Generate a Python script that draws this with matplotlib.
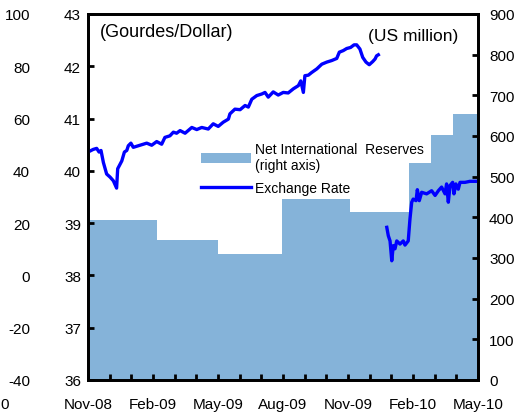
import matplotlib.pyplot as plt
import numpy as np

plt.rcParams['font.family'] = ['Liberation Sans', 'DejaVu Sans']
plt.rcParams['axes.unicode_minus'] = False

# months since Nov-2008
month_labels = ['Nov-08', 'Feb-09', 'May-09', 'Aug-09', 'Nov-09', 'Feb-10', 'May-10']

# Net International Reserves (US$ million), step blocks
nir_edges = [0, 3.2, 6.0, 8.95, 12.1, 14.8, 15.85, 16.85, 18.0]
nir_values = [394, 345, 311, 446, 413, 533, 602, 654]

# Exchange rate (gourdes/dollar), before the January 2010 gap
er1_month = [0.0, 0.24, 0.40, 0.51, 0.60, 0.71, 0.86, 1.02, 1.17, 1.32, 1.37,
             1.56, 1.68, 1.79, 1.86, 1.98, 2.09, 2.40, 2.71, 2.94, 3.17, 3.40,
             3.55, 3.78, 3.94, 4.09, 4.25, 4.48, 4.79, 5.02, 5.25, 5.55, 5.78,
             6.01, 6.24, 6.48,
             6.55, 6.78, 7.02, 7.25, 7.40, 7.56, 7.79, 8.02, 8.17, 8.32, 8.55,
             8.78, 9.01, 9.24, 9.48, 9.71, 9.82, 9.94, 10.01, 10.17, 10.32,
             10.56, 10.79, 11.02, 11.25, 11.48, 11.60, 11.78, 11.94, 12.12,
             12.28, 12.40, 12.55, 12.68, 12.83, 12.98, 13.14, 13.25, 13.32, 13.40]
er1_value = [40.36, 40.41, 40.43, 40.36, 40.39, 40.16, 39.94, 39.88, 39.81,
             39.67, 40.04, 40.19, 40.36, 40.39, 40.48, 40.53, 40.45, 40.49,
             40.53, 40.49, 40.56, 40.51, 40.64, 40.67, 40.74, 40.72, 40.77,
             40.72, 40.83, 40.79, 40.83, 40.80, 40.90, 40.85, 40.93, 40.99,
             41.09, 41.18, 41.17, 41.25, 41.22, 41.37, 41.44, 41.47, 41.50,
             41.41, 41.51, 41.45, 41.50, 41.49, 41.57, 41.63, 41.72, 41.50,
             41.82, 41.83, 41.88, 41.95, 42.04, 42.08, 42.11, 42.15, 42.27,
             42.30, 42.34, 42.36, 42.41, 42.41, 42.33, 42.17, 42.08, 42.03,
             42.09, 42.14, 42.20, 42.22]

# Exchange rate after the gap
er2_month = [13.79, 13.86, 13.94, 14.02, 14.09, 14.17, 14.25, 14.40, 14.55,
             14.63, 14.78, 14.86, 14.94, 15.01, 15.14, 15.20, 15.29, 15.40,
             15.63, 15.86, 16.02, 16.17, 16.32, 16.48, 16.55, 16.63, 16.71,
             16.83, 16.89, 16.98, 17.09, 17.17, 17.40, 17.63, 18.0]
er2_value = [38.92, 38.76, 38.66, 38.28, 38.57, 38.51, 38.66, 38.60, 38.66,
             38.58, 38.66, 39.08, 39.40, 39.46, 39.43, 39.64, 39.43, 39.59,
             39.56, 39.62, 39.53, 39.62, 39.69, 39.56, 39.75, 39.40, 39.72,
             39.78, 39.56, 39.75, 39.65, 39.78, 39.78, 39.80, 39.80]

fig = plt.figure(figsize=(5.2, 4.14), dpi=100)
ax = fig.add_axes([88 / 520, 1 - 381 / 414, 390 / 520, 366 / 414])
ax2 = ax.twinx()

widths = np.diff(nir_edges)
bars = ax2.bar(nir_edges[:-1], nir_values, width=widths, align='edge',
               color='#85b3d9', linewidth=0)
line, = ax.plot(er1_month, er1_value, color='#0000ff', lw=2.4)
ax.plot(er2_month, er2_value, color='#0000ff', lw=2.4)

ax.set_zorder(ax2.get_zorder() + 1)
ax.patch.set_visible(False)

ax.set_xlim(0, 18)
ax.set_ylim(36, 43)
ax2.set_ylim(0, 900)
ax.set_xticks(np.arange(0, 19, 3))
ax.set_xticks(np.arange(0, 19, 1), minor=True)
ax.set_xticklabels(month_labels)
ax.set_yticks(np.arange(36, 44, 1))
ax2.set_yticks(np.arange(0, 901, 100))

for a in (ax, ax2):
    for s in a.spines.values():
        s.set_linewidth(2)
    a.tick_params(direction='in', length=4, width=2, labelsize=11, color='black')
ax.tick_params(axis='x', which='both', direction='in', length=4, width=2, pad=12)
ax.tick_params(axis='y', pad=5)
ax2.tick_params(axis='y', pad=8)

# leftover axis from a neighbouring chart
ghost = ax.secondary_yaxis(-0.138, functions=(lambda v: (v - 36) * 20 - 40,
                                              lambda u: (u + 40) / 20 + 36))
ghost.set_yticks(np.arange(-40, 101, 20))
ghost.spines['left'].set_visible(False)
ghost.tick_params(length=0, labelsize=11, pad=3)
fig.text(0.0, 1 - 405 / 414, '0', fontsize=11, ha='left', va='center')

ax.text(0.031, 0.951, '(Gourdes/Dollar)', transform=ax.transAxes, fontsize=13,
        va='center', ha='left')
ax.text(0.949, 0.94, '(US million)', transform=ax.transAxes, fontsize=12.5,
        va='center', ha='right')

leg = ax.legend([bars, line], ['Net International  Reserves\n(right axis)', 'Exchange Rate'],
                loc='upper left', bbox_to_anchor=(0.257, 0.684), frameon=False,
                fontsize=10, handlelength=3.6, handletextpad=0.3, labelspacing=0.6)

fig.savefig('out.png', dpi=100)
